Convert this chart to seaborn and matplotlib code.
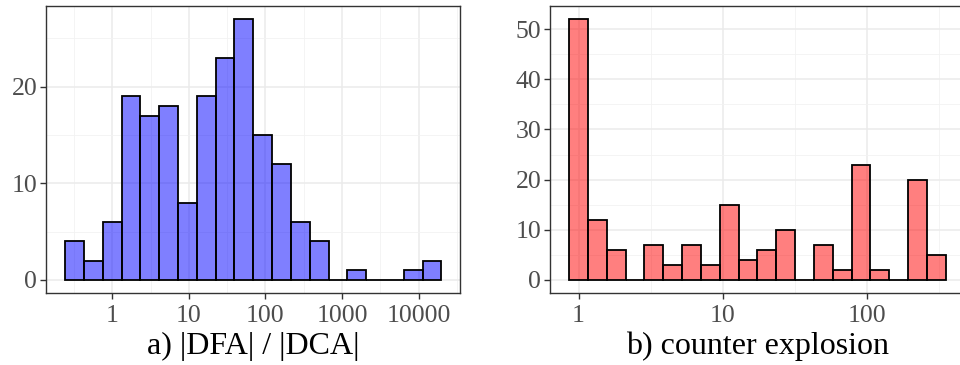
import numpy as np
import pandas as pd
import matplotlib
matplotlib.use("Agg")
import matplotlib.pyplot as plt
import seaborn as sns
from matplotlib.ticker import FixedLocator, NullFormatter

# ---- data ----
# panel a: |DFA| / |DCA| histogram (20 log-spaced bins)
a_counts = [4, 2, 6, 19, 17, 18, 8, 19, 23, 27, 15, 12, 6, 4, 0, 1, 0, 0, 1, 2]
a_log_min = -0.495   # log10 of smallest value
a_log_max = 4.177    # log10 of largest value
a_xticks = [1, 10, 100, 1000, 10000]
a_xticklabels = ["1", "10", "100", "1000", "10000"]
a_yticks = [0, 10, 20]
a_label = "a) |DFA| / |DCA|"

# panel b: counter explosion histogram (20 log-spaced bins)
b_counts = [52, 12, 6, 0, 7, 3, 7, 3, 15, 4, 6, 10, 0, 7, 2, 23, 2, 0, 20, 5]
b_log_min = 0.0
b_log_max = 2.481
b_xticks = [1, 10, 100]
b_xticklabels = ["1", "10", "100"]
b_yticks = [0, 10, 20, 30, 40, 50]
b_label = "b) counter explosion"

N_BINS = 20

sns.set_theme(style="white")
plt.rcParams["font.family"] = ["Liberation Serif", "DejaVu Serif"]

W, H = 960, 365
fig = plt.figure(figsize=(W / 100, H / 100), dpi=100)


def panel(rect, counts, lmin, lmax, xticks, xticklabels, yticks, label, color):
    ax = fig.add_axes(rect)
    w = (lmax - lmin) / (N_BINS - 1)
    edges = np.linspace(lmin - w / 2, lmax + w / 2, N_BINS + 1)
    centers = 10 ** ((edges[:-1] + edges[1:]) / 2)
    df = pd.DataFrame({"x": centers, "n": counts})
    sns.histplot(data=df, x="x", weights="n", bins=list(edges), log_scale=True,
                 color=color, alpha=0.5, edgecolor="black", linewidth=1.3,
                 ax=ax, zorder=3)
    span = edges[-1] - edges[0]
    ax.set_xlim(10 ** (edges[0] - 0.05 * span), 10 ** (edges[-1] + 0.05 * span))
    ymax = max(counts)
    ax.set_ylim(-0.05 * ymax, ymax * 1.05)

    # grid
    xmin_l = np.floor(edges[0] - 0.05 * span)
    xmax_l = np.ceil(edges[-1] + 0.05 * span)
    minor_x = [10 ** (v + 0.5) for v in np.arange(xmin_l - 1, xmax_l + 1)]
    ax.xaxis.set_major_locator(FixedLocator(xticks))
    ax.xaxis.set_minor_locator(FixedLocator(minor_x))
    ax.xaxis.set_minor_formatter(NullFormatter())
    ax.set_xticklabels(xticklabels)
    ax.yaxis.set_major_locator(FixedLocator(yticks))
    ystep = yticks[1] - yticks[0]
    ax.yaxis.set_minor_locator(FixedLocator(np.arange(ystep / 2, ymax * 1.05, ystep)))
    ax.grid(which="major", color="#EBEBEB", linewidth=1.1, zorder=0)
    ax.grid(which="minor", color="#F2F2F2", linewidth=0.6, zorder=0)
    ax.set_axisbelow(True)

    ax.tick_params(which="major", length=4.5, width=1.0, color="#333333",
                   labelsize=18.5, labelcolor="#4D4D4D", pad=4,
                   bottom=True, left=True)
    ax.tick_params(axis="y", pad=2)
    ax.tick_params(which="minor", length=0)
    for s in ax.spines.values():
        s.set_color("#333333")
        s.set_linewidth(1.0)
    ax.set_ylabel("")
    ax.set_xlabel(label, fontsize=23, color="black", labelpad=3.5)
    return ax


panel([46.3 / W, 1 - 293 / H, 414 / W, 287 / H], a_counts, a_log_min, a_log_max,
      a_xticks, a_xticklabels, a_yticks, a_label, "#0000FF")
panel([550.3 / W, 1 - 293 / H, 414.2 / W, 287 / H], b_counts, b_log_min, b_log_max,
      b_xticks, b_xticklabels, b_yticks, b_label, "#FF0000")

fig.savefig("out.png", dpi=100)
